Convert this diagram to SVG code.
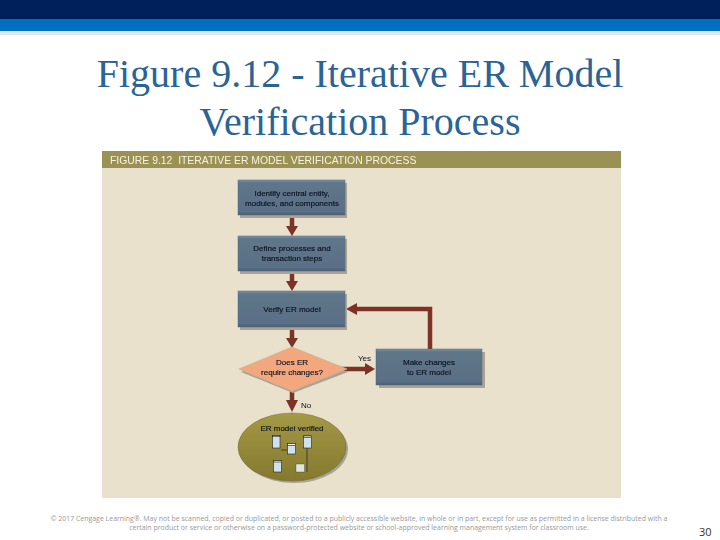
<svg xmlns="http://www.w3.org/2000/svg" width="720" height="540" viewBox="0 0 720 540">
<defs>
<linearGradient id="box" x1="0" y1="0" x2="0" y2="1"><stop offset="0" stop-color="#7d93a6"/><stop offset="0.08" stop-color="#5f7589"/><stop offset="0.9" stop-color="#5a7086"/><stop offset="1" stop-color="#4a5e72"/></linearGradient>
<linearGradient id="oval" x1="0" y1="0" x2="0" y2="1"><stop offset="0" stop-color="#a59a45"/><stop offset="0.5" stop-color="#94883a"/><stop offset="1" stop-color="#85792d"/></linearGradient>
<filter id="soft" x="-2%" y="-2%" width="104%" height="104%"><feGaussianBlur stdDeviation="0.3"/></filter>
</defs>
<style>
.shadow{fill:#a9a395}
.b{fill:url(#box);stroke:#56697c;stroke-width:.5}
.t{font-family:"Liberation Sans",Arial,sans-serif;font-size:8px;fill:#0b121e;text-anchor:middle;stroke:#0b121e;stroke-width:.15}
.lab{font-family:"Liberation Sans",Arial,sans-serif;font-size:8px;fill:#111}
.conn{fill:none;stroke:#7b3328;stroke-width:4.500}
.head{fill:#7b3328}
.db{fill:#cfe3ef;stroke:#222;stroke-width:.6}
.dbh{fill:#f2eed8;stroke:#222;stroke-width:.6}
.title{font-family:"Liberation Serif","Times New Roman",serif;font-size:40px;fill:#2a6496;text-anchor:middle}
.foot{font-family:"Open Sans","Liberation Sans",sans-serif;font-size:6.960px;fill:#999;text-anchor:middle}
</style>
<rect width="720" height="540" fill="#fff"/>
<rect width="720" height="19" fill="#00205b"/>
<rect y="19" width="720" height="12" fill="#0070c0"/>
<rect y="31" width="720" height="4" fill="#e4e6ee"/>
<text class="title" x="360" y="87">Figure 9.12 - Iterative ER Model</text>
<text class="title" x="360" y="135">Verification Process</text>
<rect x="102" y="151" width="519" height="347" fill="#e9e1cb"/>
<rect x="102" y="151" width="519" height="17" fill="#9c9155"/>
<g filter="url(#soft)">
<text x="110" y="163.500" xml:space="preserve" font-family="'Liberation Sans',Arial,sans-serif" font-size="10.400" fill="#f7f2e0">FIGURE 9.12  ITERATIVE ER MODEL VERIFICATION PROCESS</text>
<g id="connectors">
<path class="conn" d="M292 215V228"/><polygon class="head" points="286,226 298,226 292,236"/>
<path class="conn" d="M292 271V283"/><polygon class="head" points="286,281 298,281 292,291"/>
<path class="conn" d="M292 327V340"/><polygon class="head" points="286,338 298,338 292,348"/>
<path class="conn" d="M292 390V402"/><polygon class="head" points="286,400 298,400 292,412"/>
<path class="conn" d="M340 369H368"/><polygon class="head" points="365,363 365,375 375,369"/>
<path class="conn" d="M430 350V309H355"/><polygon class="head" points="357,303 357,315 346,309"/>
</g>
<g id="node-identify">
<rect class="shadow" x="240" y="183" width="107" height="35"/><rect class="b" x="238" y="180" width="107" height="35"/>
<text class="t" x="292" y="196">Identify central entity,</text><text class="t" x="292" y="206">modules, and components</text>
</g>
<g id="node-define">
<rect class="shadow" x="240" y="239" width="107" height="35"/><rect class="b" x="238" y="236" width="107" height="35"/>
<text class="t" x="292" y="251">Define processes and</text><text class="t" x="292" y="261">transaction steps</text>
</g>
<g id="node-verify">
<rect class="shadow" x="240" y="294" width="107" height="36"/><rect class="b" x="238" y="291" width="107" height="36"/>
<text class="t" x="292" y="312">Verify ER model</text>
</g>
<g id="node-decision">
<polygon points="293,351 348,372 293,393 241,372" fill="#a9a395"/>
<polygon points="292,347 347,369 292,391 239,369" fill="#f3a77f" stroke="#c9b48c" stroke-width=".7"/>
<text class="t" x="292" y="365">Does ER</text><text class="t" x="292" y="375">require changes?</text>
<text class="lab" x="358" y="361">Yes</text>
<text class="lab" x="301" y="408">No</text>
</g>
<g id="node-changes">
<rect class="shadow" x="379" y="352" width="106" height="36"/><rect class="b" x="376" y="349" width="106" height="36"/>
<text class="t" x="429" y="365">Make changes</text><text class="t" x="429" y="375">to ER model</text>
</g>
<g id="node-verified">
<ellipse cx="294" cy="449" rx="54" ry="34" fill="#a9a395"/>
<ellipse cx="292" cy="447" rx="54" ry="34" fill="url(#oval)" stroke="#6f6a3a" stroke-width=".5"/>
<text class="t" x="292" y="431">ER model verified</text>
<path d="M281 450H288M307 448V472" fill="none" stroke="#222" stroke-width=".7"/>
<rect class="db" x="272.500" y="435.500" width="7.500" height="12.500"/><rect class="dbh" x="272.500" y="435.500" width="7.500" height="1.200"/>
<rect class="db" x="287.500" y="443.500" width="8" height="10.500"/><rect class="dbh" x="287.500" y="443.500" width="8" height="1.800"/>
<rect class="db" x="303.500" y="436" width="8" height="12"/><rect class="dbh" x="303.500" y="436" width="8" height="1.500"/>
<rect class="db" x="273.500" y="460.500" width="8" height="11.500"/><rect class="dbh" x="273.500" y="460.500" width="8" height="1.500"/>
<rect x="296" y="464" width="8.500" height="8" fill="#dfe8d8" stroke="#222" stroke-width=".3"/>
</g>
</g>
<text class="foot" x="359" y="521">© 2017 Cengage Learning®. May not be scanned, copied or duplicated, or posted to a publicly accessible website, in whole or in part, except for use as permitted in a license distributed with a</text>
<text class="foot" x="359" y="530">certain product or service or otherwise on a password-protected website or school-approved learning management system for classroom use.</text>
<text x="699" y="536" font-family="'Open Sans','Liberation Sans',sans-serif" font-size="11px" fill="#333">30</text>
</svg>
